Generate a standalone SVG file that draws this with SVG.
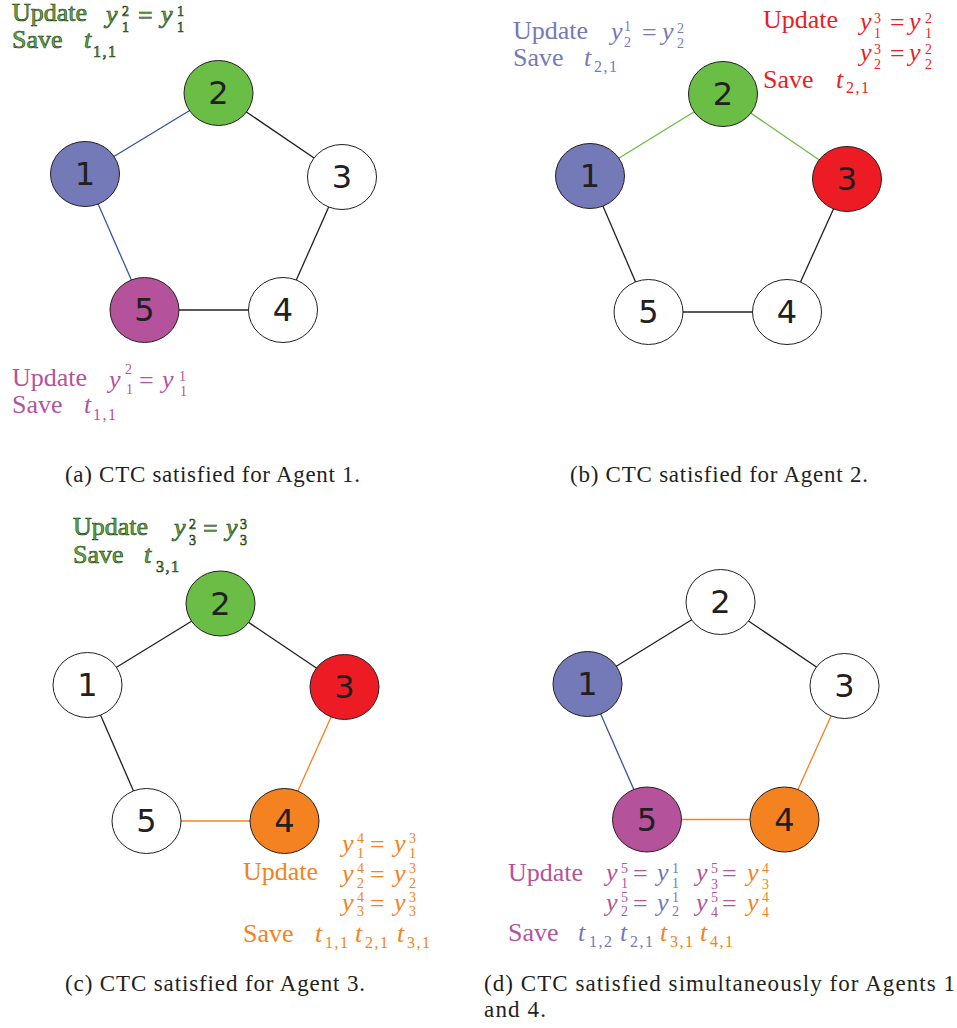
<svg xmlns="http://www.w3.org/2000/svg" width="957" height="1028" viewBox="0 0 957 1028">
<style>
.n{stroke:#231f20;stroke-width:1}
.w{fill:#ffffff}.cg{fill:#6abd45}.cb{fill:#7479b8}.cm{fill:#b5529c}.cr{fill:#ed1c24}.co{fill:#f58220}
.nl{font-family:"DejaVu Sans",sans-serif;font-size:32px;fill:#231f20;text-anchor:middle}
.e{stroke-width:1.3;fill:none}
.ek{stroke:#231f20}.eb{stroke:#2f55a4}.eg{stroke:#6abd45}.eo{stroke:#f58220}
.t{font-family:"Liberation Serif",serif;font-size:26px}
.m{font-family:"Liberation Serif",serif;font-size:26px;font-style:italic}
.s{font-family:"Liberation Serif",serif;font-size:14px}
.ts{font-family:"Liberation Serif",serif;font-size:16px;letter-spacing:1.5px}
.q{font-family:"Liberation Serif",serif;font-size:26px}
.G{fill:#5fae3f;stroke:#1f3a18;stroke-width:0.6}
.B{fill:#7479b8}.M{fill:#b5529c}.R{fill:#ed1c24}.O{fill:#f58220}
.cap{font-family:"Liberation Serif",serif;font-size:23px;fill:#231f20}
</style>
<g id="connectors">
<line class="e eb" x1="85" y1="174" x2="218.5" y2="93"/>
<line class="e ek" x1="218.5" y1="93" x2="342" y2="177"/>
<line class="e ek" x1="342" y1="177" x2="283" y2="310"/>
<line class="e ek" x1="283" y1="310" x2="144.5" y2="310"/>
<line class="e eb" x1="144.5" y1="310" x2="85" y2="174"/>
<line class="e eg" x1="590" y1="176" x2="723" y2="94"/>
<line class="e eg" x1="723" y1="94" x2="847" y2="179"/>
<line class="e ek" x1="847" y1="179" x2="787" y2="312"/>
<line class="e ek" x1="787" y1="312" x2="648.5" y2="312"/>
<line class="e ek" x1="648.5" y1="312" x2="590" y2="176"/>
<line class="e ek" x1="87.5" y1="685" x2="220.5" y2="603.5"/>
<line class="e ek" x1="220.5" y1="603.5" x2="344.5" y2="687"/>
<line class="e eo" x1="344.5" y1="687" x2="284.5" y2="821"/>
<line class="e eo" x1="284.5" y1="821" x2="146.5" y2="821"/>
<line class="e ek" x1="146.5" y1="821" x2="87.5" y2="685"/>
<line class="e ek" x1="587.5" y1="684" x2="720.5" y2="602"/>
<line class="e ek" x1="720.5" y1="602" x2="844.5" y2="686"/>
<line class="e eo" x1="844.5" y1="686" x2="784.5" y2="819.5"/>
<line class="e eo" x1="784.5" y1="819.5" x2="647" y2="819.5"/>
<line class="e eb" x1="647" y1="819.5" x2="587.5" y2="684"/>
</g>
<g id="a-n1"><ellipse class="n cb" cx="85" cy="174" rx="34.5" ry="32.5"/><text class="nl" x="85" y="185">1</text></g>
<g id="a-n2"><ellipse class="n cg" cx="218.5" cy="93" rx="34.5" ry="32.5"/><text class="nl" x="218.5" y="104">2</text></g>
<g id="a-n3"><ellipse class="n w" cx="342" cy="177" rx="34.5" ry="32.5"/><text class="nl" x="342" y="188">3</text></g>
<g id="a-n4"><ellipse class="n w" cx="283" cy="310" rx="34.5" ry="32.5"/><text class="nl" x="283" y="321">4</text></g>
<g id="a-n5"><ellipse class="n cm" cx="144.5" cy="310" rx="34.5" ry="32.5"/><text class="nl" x="144.5" y="321">5</text></g>
<g id="b-n1"><ellipse class="n cb" cx="590" cy="176" rx="34.5" ry="32.5"/><text class="nl" x="590" y="187">1</text></g>
<g id="b-n2"><ellipse class="n cg" cx="723" cy="94" rx="34.5" ry="32.5"/><text class="nl" x="723" y="105">2</text></g>
<g id="b-n3"><ellipse class="n cr" cx="847" cy="179" rx="34.5" ry="32.5"/><text class="nl" x="847" y="190">3</text></g>
<g id="b-n4"><ellipse class="n w" cx="787" cy="312" rx="34.5" ry="32.5"/><text class="nl" x="787" y="323">4</text></g>
<g id="b-n5"><ellipse class="n w" cx="648.5" cy="312" rx="34.5" ry="32.5"/><text class="nl" x="648.5" y="323">5</text></g>
<g id="c-n1"><ellipse class="n w" cx="87.5" cy="685" rx="34.5" ry="32.5"/><text class="nl" x="87.5" y="696">1</text></g>
<g id="c-n2"><ellipse class="n cg" cx="220.5" cy="603.5" rx="34.5" ry="32.5"/><text class="nl" x="220.5" y="614.5">2</text></g>
<g id="c-n3"><ellipse class="n cr" cx="344.5" cy="687" rx="34.5" ry="32.5"/><text class="nl" x="344.5" y="698">3</text></g>
<g id="c-n4"><ellipse class="n co" cx="284.5" cy="821" rx="34.5" ry="32.5"/><text class="nl" x="284.5" y="832">4</text></g>
<g id="c-n5"><ellipse class="n w" cx="146.5" cy="821" rx="34.5" ry="32.5"/><text class="nl" x="146.5" y="832">5</text></g>
<g id="d-n1"><ellipse class="n cb" cx="587.5" cy="684" rx="34.5" ry="32.5"/><text class="nl" x="587.5" y="695">1</text></g>
<g id="d-n2"><ellipse class="n w" cx="720.5" cy="602" rx="34.5" ry="32.5"/><text class="nl" x="720.5" y="613">2</text></g>
<g id="d-n3"><ellipse class="n w" cx="844.5" cy="686" rx="34.5" ry="32.5"/><text class="nl" x="844.5" y="697">3</text></g>
<g id="d-n4"><ellipse class="n co" cx="784.5" cy="819.5" rx="34.5" ry="32.5"/><text class="nl" x="784.5" y="830.5">4</text></g>
<g id="d-n5"><ellipse class="n cm" cx="647" cy="819.5" rx="34.5" ry="32.5"/><text class="nl" x="647" y="830.5">5</text></g>

<g id="label-a-top" class="G">
<text class="t" x="12" y="21">Update</text>
<text class="t" x="12" y="48">Save</text>
<text class="m" x="106" y="23">y</text><text class="s" x="122" y="16">2</text><text class="s" x="122" y="32">1</text>
<text class="q" x="138" y="24">=</text>
<text class="m" x="161" y="23">y</text><text class="s" x="177" y="16">1</text><text class="s" x="177" y="32">1</text>
<text class="m" x="84" y="48">t</text><text class="ts" x="93" y="57">1,1</text>
</g>
<g id="label-a-bottom" class="M">
<text class="t" x="12" y="386">Update</text>
<text class="t" x="12" y="413">Save</text>
<text class="m" x="109" y="388">y</text><text class="s" x="125" y="374">2</text><text class="s" x="126" y="394">1</text>
<text class="q" x="139" y="389">=</text>
<text class="m" x="162" y="388">y</text><text class="s" x="179" y="381">1</text><text class="s" x="180" y="396">1</text>
<text class="m" x="84" y="413">t</text><text class="ts" x="93" y="420">1,1</text>
</g>
<g id="label-b-left" class="B">
<text class="t" x="513" y="39">Update</text>
<text class="t" x="513" y="66">Save</text>
<text class="m" x="611" y="40">y</text><text class="s" x="624" y="31">1</text><text class="s" x="624" y="47">2</text>
<text class="q" x="642" y="41">=</text>
<text class="m" x="662" y="40">y</text><text class="s" x="677" y="33">2</text><text class="s" x="677" y="48">2</text>
<text class="m" x="584" y="66">t</text><text class="ts" x="594" y="72">2,1</text>
</g>
<g id="label-b-right" class="R">
<text class="t" x="763" y="28">Update</text>
<text class="t" x="763" y="88">Save</text>
<text class="m" x="860" y="30">y</text><text class="s" x="874" y="23">3</text><text class="s" x="874" y="38">1</text>
<text class="q" x="890" y="31">=</text>
<text class="m" x="909" y="30">y</text><text class="s" x="925" y="23">2</text><text class="s" x="925" y="38">1</text>
<text class="m" x="860" y="61">y</text><text class="s" x="874" y="54">3</text><text class="s" x="874" y="69">2</text>
<text class="q" x="890" y="62">=</text>
<text class="m" x="909" y="61">y</text><text class="s" x="925" y="54">2</text><text class="s" x="925" y="69">2</text>
<text class="m" x="836" y="88">t</text><text class="ts" x="846" y="93">2,1</text>
</g>
<g id="label-c-top" class="G">
<text class="t" x="73" y="535">Update</text>
<text class="t" x="73" y="563">Save</text>
<text class="m" x="174" y="536">y</text><text class="s" x="189" y="529">2</text><text class="s" x="189" y="545">3</text>
<text class="q" x="203" y="537">=</text>
<text class="m" x="226" y="536">y</text><text class="s" x="240" y="529">3</text><text class="s" x="240" y="545">3</text>
<text class="m" x="144" y="563">t</text><text class="ts" x="156" y="572">3,1</text>
</g>
<g id="label-c-bottom" class="O">
<text class="t" x="243" y="880">Update</text>
<text class="t" x="243" y="942">Save</text>
<text class="m" x="342" y="852">y</text><text class="s" x="357" y="843">4</text><text class="s" x="357" y="858">1</text>
<text class="q" x="370" y="853">=</text>
<text class="m" x="394" y="852">y</text><text class="s" x="409" y="843">3</text><text class="s" x="409" y="858">1</text>
<text class="m" x="342" y="882">y</text><text class="s" x="357" y="873">4</text><text class="s" x="357" y="888">2</text>
<text class="q" x="370" y="883">=</text>
<text class="m" x="394" y="882">y</text><text class="s" x="409" y="873">3</text><text class="s" x="409" y="888">2</text>
<text class="m" x="342" y="911">y</text><text class="s" x="357" y="902">4</text><text class="s" x="357" y="916">3</text>
<text class="q" x="370" y="912">=</text>
<text class="m" x="394" y="911">y</text><text class="s" x="409" y="902">3</text><text class="s" x="409" y="916">3</text>
<text class="m" x="315" y="942">t</text><text class="ts" x="325" y="948">1,1</text>
<text class="m" x="355" y="942">t</text><text class="ts" x="365" y="948">2,1</text>
<text class="m" x="397" y="942">t</text><text class="ts" x="407" y="948">3,1</text>
</g>
<g id="label-d">
<text class="t M" x="508" y="881">Update</text>
<text class="t M" x="508" y="941">Save</text>
<text class="m M" x="606" y="881">y</text><text class="s M" x="621" y="873">5</text><text class="s M" x="621" y="888">1</text>
<text class="q M" x="633" y="882">=</text>
<text class="m B" x="657" y="881">y</text><text class="s B" x="672" y="873">1</text><text class="s B" x="672" y="888">1</text>
<text class="m M" x="696" y="881">y</text><text class="s M" x="711" y="873">5</text><text class="s M" x="711" y="889">3</text>
<text class="q M" x="722" y="882">=</text>
<text class="m O" x="747" y="881">y</text><text class="s O" x="762" y="873">4</text><text class="s O" x="762" y="889">3</text>
<text class="m M" x="606" y="911">y</text><text class="s M" x="621" y="902">5</text><text class="s M" x="621" y="916">2</text>
<text class="q M" x="633" y="912">=</text>
<text class="m B" x="657" y="911">y</text><text class="s B" x="672" y="902">1</text><text class="s B" x="672" y="916">2</text>
<text class="m M" x="696" y="911">y</text><text class="s M" x="711" y="902">5</text><text class="s M" x="711" y="917">4</text>
<text class="q M" x="722" y="912">=</text>
<text class="m O" x="747" y="911">y</text><text class="s O" x="762" y="902">4</text><text class="s O" x="762" y="917">4</text>
<text class="m B" x="578" y="941">t</text><text class="ts B" x="589" y="947">1,2</text>
<text class="m B" x="620" y="941">t</text><text class="ts B" x="630" y="947">2,1</text>
<text class="m O" x="660" y="941">t</text><text class="ts O" x="670" y="947">3,1</text>
<text class="m O" x="700" y="941">t</text><text class="ts O" x="710" y="947">4,1</text>
</g>
<g id="captions">
<text class="cap" x="65" y="482" textLength="295" lengthAdjust="spacing">(a) CTC satisfied for Agent 1.</text>
<text class="cap" x="570" y="482" textLength="298" lengthAdjust="spacing">(b) CTC satisfied for Agent 2.</text>
<text class="cap" x="65" y="991" textLength="300" lengthAdjust="spacing">(c) CTC satisfied for Agent 3.</text>
<text class="cap" x="484" y="991" textLength="471" lengthAdjust="spacing">(d) CTC satisfied simultaneously for Agents 1</text>
<text class="cap" x="484" y="1017" textLength="62" lengthAdjust="spacing">and 4.</text>
</g>
</svg>
